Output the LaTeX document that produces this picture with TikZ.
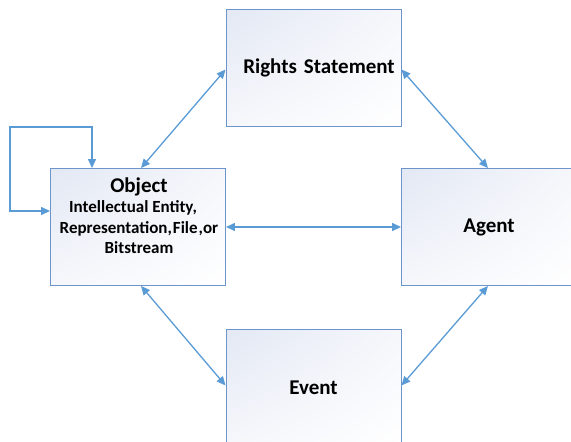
\documentclass[tikz,border=0pt]{standalone}
\usepackage{fontspec}
\setmainfont{Carlito}
\usetikzlibrary{arrows.meta,calc,shadings}
\definecolor{linkblue}{HTML}{5B9BD5}
\definecolor{boxedge}{HTML}{6E95CB}
\definecolor{shadeA}{HTML}{E3E8F4}
\definecolor{shadeB}{HTML}{F5F7FB}
\tikzset{
  entity/.style={draw=boxedge, line width=0.9pt, minimum width=175pt, minimum height=117pt,
    inner sep=0pt, upper left=shadeA, upper right=shadeB, lower left=shadeB, lower right=white,
    font=\bfseries\fontsize{21}{24}\selectfont},
  link/.style={draw=linkblue, line width=1.3pt, {Triangle[length=9pt,width=8pt]}-{Triangle[length=9pt,width=8pt]}},
}
\begin{document}
\begin{tikzpicture}[x=1pt,y=-1pt]
  \useasboundingbox (0,0) rectangle (571,442);
  \clip (0,0) rectangle (571,442);
  % the four entities
  \node[entity, text width=175pt, align=center] (rs) at (313.5,67.5) {\hspace*{11pt}Rights Statement};
  \node[entity] (obj) at (138,227) {};
  \node[entity] (ag) at (489,227) {Agent};
  \node[entity] (ev) at (313.5,387.5) {Event};
  \node[align=center, anchor=north, inner sep=0pt,
        font=\bfseries\fontsize{17}{20.5}\selectfont] (objtxt) at (139,177.5)
    {{\fontsize{21}{20.5}\selectfont Object}\\
     \hspace*{-12pt}Intellectual Entity,\\
     Representation,\kern1pt File\kern1pt,or\\
     Bitstream};
  % relationships
  \draw[link] ($(obj.north)+(3,0)$) -- ($(rs.west)+(0,2)$);
  \draw[link] ($(rs.east)+(0,2)$) -- ($(ag.north)+(-1,0)$);
  \draw[link] (obj.east) -- (ag.west);
  \draw[link] ($(obj.south)+(3,0)$) -- ($(ev.west)+(0,-2)$);
  \draw[link] ($(ev.east)+(0,-2)$) -- ($(ag.south)+(-1,0)$);
  % object to object
  \coordinate (loopA) at ($(obj.north)+(-46,0)$);
  \coordinate (loopB) at ($(obj.west)+(0,-16)$);
  \coordinate (loopC) at (10,0);
  \draw[link] (loopA) -- ++(0,-41) -| (loopC |- loopB) -- (loopB);
\end{tikzpicture}
\end{document}
